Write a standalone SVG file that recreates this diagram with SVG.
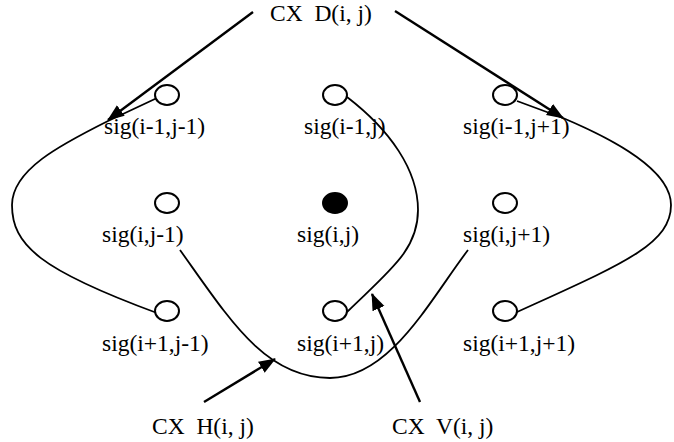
<svg xmlns="http://www.w3.org/2000/svg" width="674" height="442" viewBox="0 0 674 442">
<style>
text{font-family:"Liberation Serif","Times New Roman",serif;font-size:23.5px;fill:#000;white-space:pre}
.n{fill:#fff;stroke:#000;stroke-width:2}
.f{fill:#000;stroke:#000;stroke-width:2}
.c{fill:none;stroke:#000;stroke-width:1.8}
.a{fill:none;stroke:#000;stroke-width:2.4}
</style>
<defs>
<marker id="ah" markerUnits="userSpaceOnUse" markerWidth="18" markerHeight="14" refX="16" refY="6.5" orient="auto">
<path d="M0,0 L17,6.5 L0,13 z" fill="#000"/>
</marker>
</defs>
<g id="connectors">
<path class="c" d="M157,98 L108,121 C 60,145 12,170 12,205 C 12,245 40,270 157,313"/>
<path class="c" d="M347,97 C 390,130 418,170 418,210 C 418,250 390,270 347,312"/>
<path class="c" d="M180,250 C 230,320 265,378 330,378 C 390,378 430,300 468,250"/>
<path class="c" d="M517,101 L563,118 C 615,140 671,170 671,205 C 671,245 620,265 515,313"/>
<line class="a" x1="253" y1="12" x2="108" y2="120" marker-end="url(#ah)"/>
<line class="a" x1="395" y1="11" x2="563" y2="118" marker-end="url(#ah)"/>
<line class="a" x1="204" y1="402" x2="275" y2="359" marker-end="url(#ah)"/>
<line class="a" x1="420" y1="402" x2="372" y2="294" marker-end="url(#ah)"/>
</g>
<g id="n11"><ellipse class="n" cx="167" cy="95" rx="12" ry="10"/><text x="104" y="134">sig(i-1,j-1)</text></g>
<g id="n12"><ellipse class="n" cx="335" cy="95" rx="12" ry="10"/><text x="304" y="134">sig(i-1,j)</text></g>
<g id="n13"><ellipse class="n" cx="505" cy="95" rx="12" ry="10"/><text x="463" y="134">sig(i-1,j+1)</text></g>
<g id="n21"><ellipse class="n" cx="167" cy="203" rx="12" ry="10"/><text x="102" y="242">sig(i,j-1)</text></g>
<g id="n22"><ellipse class="f" cx="335" cy="203" rx="12" ry="10"/><text x="297" y="242">sig(i,j)</text></g>
<g id="n23"><ellipse class="n" cx="505" cy="203" rx="12" ry="10"/><text x="463" y="242">sig(i,j+1)</text></g>
<g id="n31"><ellipse class="n" cx="167" cy="311" rx="12" ry="10"/><text x="102" y="351">sig(i+1,j-1)</text></g>
<g id="n32"><ellipse class="n" cx="335" cy="311" rx="12" ry="10"/><text x="297" y="351">sig(i+1,j)</text></g>
<g id="n33"><ellipse class="n" cx="505" cy="311" rx="12" ry="10"/><text x="463" y="351">sig(i+1,j+1)</text></g>
<g id="cxd"><text x="270" y="21">CX  D(i, j)</text></g>
<g id="cxh"><text x="152" y="434">CX  H(i, j)</text></g>
<g id="cxv"><text x="392" y="434">CX  V(i, j)</text></g>
</svg>
